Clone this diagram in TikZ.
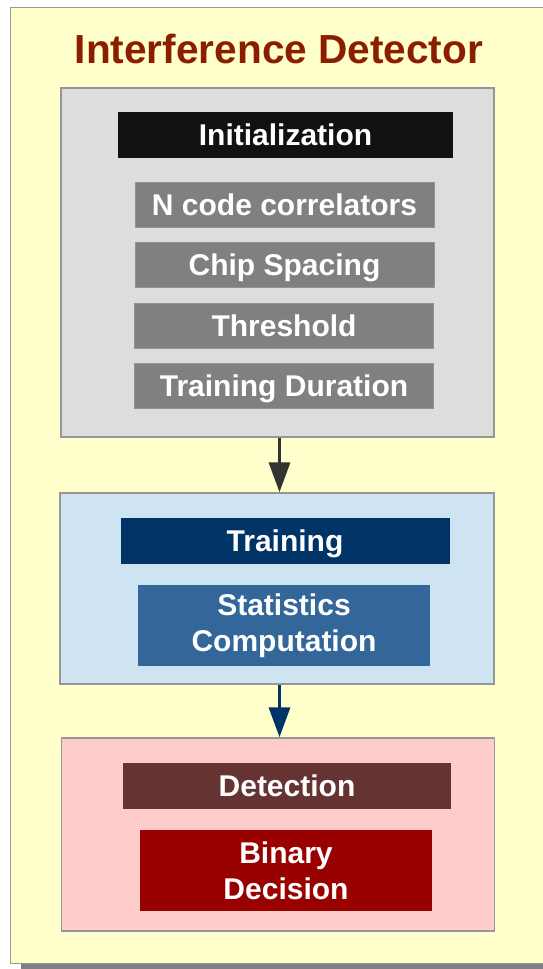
\documentclass[tikz,border=0pt]{standalone}
\usepackage{fontspec}
\setmainfont{Liberation Sans}
\usetikzlibrary{arrows.meta}

\definecolor{paper}{RGB}{255,255,204}
\definecolor{frameline}{RGB}{150,150,150}
\definecolor{shadowgray}{RGB}{128,128,128}
\definecolor{titlered}{RGB}{140,30,0}
\definecolor{initfill}{RGB}{221,221,221}
\definecolor{initbar}{RGB}{17,17,17}
\definecolor{itemgray}{RGB}{128,128,128}
\definecolor{trainfill}{RGB}{207,228,243}
\definecolor{trainbar}{RGB}{0,51,102}
\definecolor{trainitem}{RGB}{51,102,153}
\definecolor{detfill}{RGB}{255,204,204}
\definecolor{detbar}{RGB}{102,51,51}
\definecolor{detitem}{RGB}{153,0,0}
\definecolor{arrowdark}{RGB}{51,51,51}

\tikzset{
  stage/.style={draw=frameline, line width=1.5pt, inner sep=0pt},
  headbar/.style={inner sep=0pt, minimum height=46pt, text=white,
    font=\bfseries\fontsize{30}{35.7}\selectfont, text height=21.5pt, text depth=0pt},
  itembox/.style={fill=itemgray, draw=itemgray!85!white, line width=0.8pt, inner sep=0pt,
    minimum width=299pt, minimum height=45pt, text=white,
    font=\bfseries\fontsize{30}{35.7}\selectfont, text height=21.5pt, text depth=0pt},
  twoline/.style={inner sep=0pt, minimum width=292pt, minimum height=81pt, text=white,
    align=center, font=\bfseries\fontsize{30}{35.7}\selectfont},
  flow/.style={line width=3.5pt, -{Triangle[width=21pt,length=30pt]}}
}

\begin{document}
\begin{tikzpicture}[x=1pt,y=-1pt]
  \clip (0,0) rectangle (543,969);
  \fill[white] (0,0) rectangle (543,969);

  % drop shadow and the yellow sheet
  \fill[shadowgray] (21,14) rectangle (560,969);
  \filldraw[fill=paper, draw=frameline, line width=1pt] (10.5,7.5) rectangle (560,963);

  % title
  \node[anchor=base, text=titlered, inner sep=0pt,
        font=\bfseries\fontsize{40.6}{48}\selectfont] (title) at (279,63) {Interference Detector};

  % initialization stage
  \node[stage, fill=initfill, minimum width=433pt, minimum height=349pt] (init) at (277.5,262.5) {};
  \node[headbar, fill=initbar, minimum width=335pt] (initbar) at (285.5,135) {Initialization};
  \node[itembox] (ncode)  at (284.5,205)   {N code correlators};
  \node[itembox] (chip)   at (284.5,265)   {Chip Spacing};
  \node[itembox] (thresh) at (284,326)     {Threshold};
  \node[itembox] (dur)    at (284,386)     {Training Duration};

  % training stage
  \node[stage, fill=trainfill, minimum width=434pt, minimum height=191pt] (train) at (277,588.5) {};
  \node[headbar, fill=trainbar, minimum width=329pt] (trainbar) at (285,541) {Training};
  \node[twoline, fill=trainitem] (stats) at (284,625.5) {Statistics\\Computation};

  % detection stage
  \node[stage, fill=detfill, minimum width=433pt, minimum height=193pt] (detect) at (278,834.5) {};
  \node[headbar, fill=detbar, minimum width=328pt] (detbar) at (287,786) {Detection};
  \node[twoline, fill=detitem] (binary) at (286,870.5) {Binary\\Decision};

  % flow between stages
  \draw[flow, draw=arrowdark, fill=arrowdark] ([xshift=2pt]init.south) -- ([xshift=2.5pt]train.north);
  \draw[flow, draw=trainbar, fill=trainbar] ([xshift=2.5pt]train.south) -- ([xshift=1.5pt]detect.north);
\end{tikzpicture}
\end{document}
